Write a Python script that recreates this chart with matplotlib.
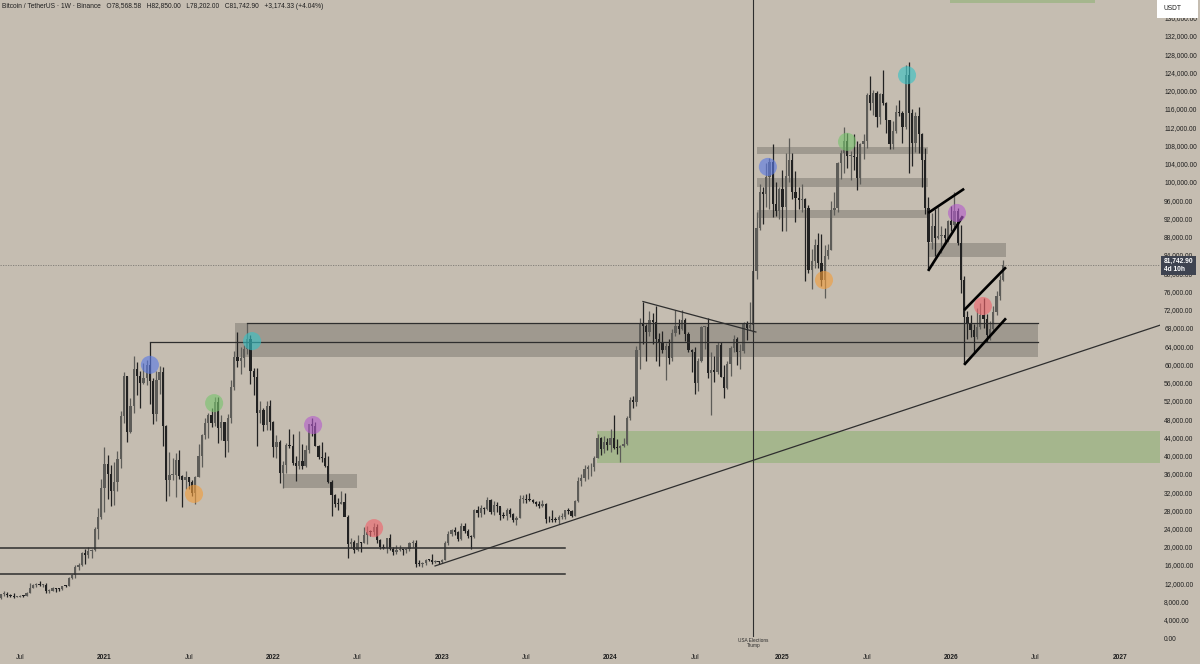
import matplotlib
matplotlib.use("Agg")
import matplotlib.pyplot as plt
from matplotlib.patches import Rectangle
import numpy as np
import pandas as pd

BG = "#c5bdb1"
UP = "#5d5c58"
DOWN = "#222222"
LINE = "#2e2e2e"

# weekly BTCUSDT candles, thousands of USDT, first bar = week of 2020-05-25
first_open = 8.72

close_2020 = [9.70, 9.75, 9.39, 9.29, 9.01, 9.07, 9.24, 9.16, 9.93, 11.05, 11.68, 11.85, 11.65, 11.68, 10.25, 10.33,
              10.93, 10.78, 10.67, 11.38, 11.36, 13.10, 13.79, 15.48, 15.96, 18.68, 18.18, 19.16, 19.25, 23.87, 26.47, 33.00]
high_2020 = [9.74, 10.38, 9.99, 9.59, 9.80, 9.32, 9.48, 9.34, 10.03, 12.12, 11.90, 12.09, 12.48, 11.80, 12.09, 10.66,
             11.18, 10.98, 10.95, 11.49, 11.72, 13.35, 14.09, 15.97, 16.48, 18.82, 19.48, 19.92, 19.42, 24.30, 28.42, 34.80]
low_2020 = [8.63, 9.25, 9.10, 8.90, 8.83, 8.94, 9.06, 9.00, 9.12, 9.92, 10.95, 11.13, 11.37, 11.12, 9.88, 9.87,
            10.20, 10.14, 10.37, 10.53, 11.24, 11.35, 12.90, 13.21, 14.84, 15.79, 16.20, 17.65, 17.56, 19.00, 21.81, 26.20]

close_2021 = [38.15, 36.00, 32.26, 34.26, 39.26, 48.58, 57.49, 45.14, 50.97, 59.02, 57.35, 55.82, 57.06, 59.77, 56.25,
              49.07, 56.60, 58.24, 46.43, 34.70, 35.66, 35.79, 39.10, 35.51, 34.70, 35.29, 34.24, 31.78, 35.40, 39.85,
              44.61, 47.08, 48.95, 47.10, 51.78, 46.00, 47.29, 43.17, 48.20, 54.96, 61.53, 60.85, 61.30, 63.27, 65.47,
              58.60, 57.27, 49.40, 50.10, 46.68, 50.78, 47.29]
high_2021 = [41.95, 40.10, 37.85, 38.53, 40.96, 49.71, 58.35, 57.53, 52.64, 61.84, 60.63, 58.60, 60.20, 61.00, 64.85,
             57.00, 58.45, 59.59, 59.50, 46.66, 40.80, 39.48, 40.48, 41.33, 35.75, 36.67, 35.30, 34.68, 35.50, 42.65,
             44.70, 48.14, 49.40, 50.50, 52.92, 52.92, 48.84, 47.35, 49.20, 56.56, 62.93, 67.00, 63.71, 64.27, 69.00,
             66.34, 59.27, 59.18, 51.94, 50.50, 51.87, 52.09]
low_2021 = [27.73, 30.42, 28.85, 29.24, 32.30, 37.35, 47.05, 43.00, 45.00, 49.27, 53.27, 50.43, 55.72, 55.47, 51.30,
            47.00, 47.50, 53.40, 42.00, 30.00, 31.11, 34.75, 31.00, 34.81, 28.81, 32.70, 32.70, 31.12, 29.28, 35.21,
            37.45, 43.66, 43.93, 46.37, 46.55, 42.80, 43.37, 39.60, 40.75, 47.10, 54.42, 59.50, 57.80, 59.40, 62.28,
            55.60, 53.25, 42.00, 47.10, 45.50, 45.56, 45.68]

close_2022 = [41.86, 43.08, 36.28, 37.92, 42.41, 42.20, 38.35, 37.70, 38.81, 37.78, 41.26, 46.82, 46.41, 42.16, 39.71,
              39.45, 37.63, 34.30, 31.33, 29.45, 29.43, 29.92, 26.57, 20.57, 21.03, 19.32, 20.83, 20.80, 22.58, 23.30,
              23.17, 24.31, 21.52, 20.04, 19.79, 21.83, 19.42, 18.80, 19.31, 19.42, 19.20, 19.57, 20.81, 20.90, 16.33,
              16.28, 16.46, 17.11, 17.10, 16.75, 16.84, 16.62]
high_2022 = [47.57, 44.50, 43.50, 38.92, 42.66, 45.85, 44.80, 39.84, 45.40, 42.59, 42.33, 47.00, 48.19, 47.44, 42.41,
             42.97, 40.80, 40.02, 34.72, 31.50, 30.64, 32.23, 31.77, 26.90, 21.87, 21.55, 22.53, 21.00, 24.28, 24.67,
             23.65, 25.21, 25.00, 21.82, 20.58, 21.86, 22.80, 19.95, 20.39, 20.48, 19.52, 19.70, 21.09, 21.48, 21.47,
             17.19, 16.77, 17.42, 17.42, 18.39, 17.06, 16.97]
low_2022 = [39.65, 39.43, 34.01, 32.92, 36.25, 41.65, 38.00, 34.32, 37.15, 37.16, 37.55, 40.47, 44.20, 42.00, 39.20,
            38.54, 37.58, 34.06, 26.70, 28.65, 28.02, 29.30, 28.20, 17.62, 19.64, 18.63, 19.00, 18.90, 20.76, 20.71,
            22.40, 22.67, 20.76, 19.54, 19.54, 18.54, 19.33, 18.12, 18.47, 19.09, 18.19, 18.65, 19.15, 20.05, 15.59,
            15.82, 15.48, 16.00, 16.88, 16.27, 16.40, 16.33]

close_2023 = [17.13, 20.87, 22.71, 23.74, 23.32, 21.78, 24.63, 23.49, 22.43, 22.13, 27.97, 27.47, 28.45, 28.32, 30.30,
              27.59, 29.23, 28.85, 26.91, 26.85, 28.07, 27.10, 25.88, 26.34, 30.53, 30.59, 30.29, 30.23, 29.90, 29.28,
              29.05, 29.41, 26.10, 26.00, 25.87, 25.84, 26.53, 26.53, 27.97, 27.91, 26.85, 29.99, 34.53, 35.01, 37.06,
              37.39, 37.45, 39.46, 43.80, 41.37, 42.99, 42.28]
high_2023 = [17.25, 21.26, 23.37, 23.82, 24.26, 23.36, 25.25, 25.12, 23.88, 22.60, 28.39, 28.87, 29.19, 28.77, 31.00,
             30.49, 30.04, 29.82, 28.83, 27.67, 28.45, 28.45, 27.45, 26.79, 31.43, 31.28, 31.50, 31.80, 30.45, 29.99,
             30.00, 30.24, 29.68, 26.80, 28.14, 26.43, 27.00, 27.48, 28.06, 28.58, 28.00, 30.35, 35.20, 35.98, 38.00,
             37.98, 38.42, 40.00, 44.70, 44.05, 44.38, 43.80]
low_2023 = [16.52, 17.10, 20.40, 22.29, 22.51, 21.35, 21.40, 23.10, 21.97, 19.55, 21.90, 26.60, 26.51, 27.20, 28.17,
            27.12, 26.94, 27.68, 25.81, 26.27, 25.87, 26.50, 25.35, 24.80, 26.27, 29.53, 29.69, 29.95, 29.51, 28.86,
            28.59, 28.70, 25.17, 25.35, 25.33, 25.33, 24.90, 26.14, 26.00, 27.22, 26.54, 26.80, 29.86, 33.39, 34.53,
            34.80, 35.63, 36.70, 39.40, 40.22, 40.55, 41.30]

close_2024 = [43.94, 41.73, 41.58, 42.03, 42.58, 48.30, 52.14, 51.73, 63.11, 68.96, 68.39, 67.21, 69.65, 69.36, 65.66,
              64.94, 63.12, 63.99, 61.48, 66.94, 68.50, 67.77, 69.65, 66.64, 63.21, 62.68, 55.86, 60.80, 68.16, 68.25,
              58.11, 58.71, 58.43, 64.22, 57.30, 54.84, 59.98, 63.58, 65.60, 62.82, 62.85, 69.00, 67.93, 68.72, 80.40,
              89.90, 97.90, 97.28, 101.11, 104.46, 95.19, 93.72, 98.36]
high_2024 = [45.88, 48.97, 43.58, 42.25, 43.88, 48.59, 52.82, 52.99, 64.00, 70.14, 73.78, 68.90, 71.77, 71.34, 72.80,
             66.87, 67.23, 64.73, 65.50, 67.70, 71.98, 70.00, 71.99, 70.20, 67.18, 63.37, 63.86, 61.42, 68.45, 68.47,
             70.08, 62.75, 61.80, 65.00, 64.96, 59.81, 60.65, 64.13, 66.50, 66.08, 64.48, 69.40, 69.52, 73.62, 80.50,
             93.48, 99.59, 98.87, 104.09, 105.25, 108.35, 99.96, 98.98]
low_2024 = [40.75, 41.50, 40.28, 38.55, 41.88, 42.27, 47.71, 50.52, 50.90, 59.00, 64.55, 60.78, 66.25, 64.49, 60.66,
            59.60, 62.40, 56.55, 60.19, 60.75, 66.31, 66.60, 67.59, 65.06, 62.80, 58.40, 53.49, 54.26, 60.63, 63.46,
            57.12, 49.00, 56.08, 57.80, 57.20, 52.55, 54.56, 57.49, 62.70, 59.83, 58.89, 62.40, 65.26, 67.45, 66.83,
            78.70, 89.38, 90.77, 94.50, 94.15, 92.23, 92.52, 91.77]

close_2025 = [94.50, 101.33, 104.71, 97.69, 96.46, 96.14, 96.26, 94.27, 80.73, 82.58, 86.08, 82.34, 78.43, 83.76, 85.17,
              93.75, 94.28, 104.12, 106.45, 109.00, 105.70, 105.73, 105.55, 100.96, 108.37, 108.95, 119.09, 117.26,
              119.45, 114.22, 119.29, 117.40, 113.49, 108.25, 111.14, 115.27, 115.23, 112.16, 123.50, 115.07, 108.64,
              114.50, 110.54, 104.72, 94.26, 86.83, 90.39, 87.80, 88.20, 88.45, 87.80, 91.50]
high_2025 = [102.72, 106.42, 109.59, 106.46, 102.50, 98.83, 99.50, 96.50, 95.00, 85.31, 87.45, 88.77, 88.50, 86.10,
             86.50, 95.76, 97.90, 104.36, 107.10, 111.98, 110.72, 106.80, 110.53, 108.95, 108.53, 110.53, 119.49,
             123.22, 120.25, 120.00, 119.60, 124.47, 117.63, 113.66, 113.38, 116.78, 117.90, 115.50, 125.71, 126.20,
             115.97, 115.30, 116.40, 110.78, 107.50, 96.64, 93.09, 94.15, 94.59, 90.35, 89.90, 91.70]
low_2025 = [89.25, 89.26, 100.10, 96.20, 91.23, 94.09, 93.39, 78.26, 80.00, 76.61, 81.14, 81.20, 77.15, 74.51, 83.00,
            85.14, 92.80, 93.38, 100.70, 102.00, 103.11, 100.37, 102.66, 98.20, 99.60, 105.12, 107.46, 115.74, 114.72,
            112.00, 112.63, 116.80, 110.68, 107.26, 107.27, 110.64, 114.38, 108.62, 111.58, 102.00, 103.53, 106.60,
            106.30, 98.94, 93.00, 80.60, 85.28, 83.82, 87.60, 84.44, 86.40, 86.80]

close_2026 = [90.50, 93.60, 86.60, 78.60, 70.30, 68.80, 67.50, 65.90, 68.20, 70.80, 69.90, 66.50, 67.80, 71.50, 75.00,
              78.568, 81.743]
high_2026 = [94.80, 97.90, 94.20, 90.60, 79.30, 71.80, 70.90, 68.90, 72.30, 73.50, 74.50, 71.00, 69.50, 72.80, 76.20,
             79.50, 82.85]
low_2026 = [89.30, 90.10, 86.20, 75.70, 60.00, 65.60, 65.90, 62.50, 65.50, 67.70, 68.00, 64.90, 65.30, 66.80, 70.80,
            74.20, 78.20]

closes = np.array(close_2020 + close_2021 + close_2022 + close_2023 + close_2024 + close_2025 + close_2026) * 1000
highs = np.array(high_2020 + high_2021 + high_2022 + high_2023 + high_2024 + high_2025 + high_2026) * 1000
lows = np.array(low_2020 + low_2021 + low_2022 + low_2023 + low_2024 + low_2025 + low_2026) * 1000
opens = np.concatenate([[first_open * 1000], closes[:-1]])

BASE = pd.Timestamp("2021-01-04")
dates = pd.date_range("2020-05-25", periods=len(closes), freq="7D")
weeks = np.array((dates - BASE).days / 7.0)

# x axis ticks
tick_dates = ["2020-07-06", "2021-01-04", "2021-07-05", "2022-01-03", "2022-07-04", "2023-01-02", "2023-07-03",
              "2024-01-01", "2024-07-01", "2025-01-06", "2025-07-07", "2026-01-05", "2026-07-06", "2027-01-04"]
tick_labels = ["Jul", "2021", "Jul", "2022", "Jul", "2023", "Jul", "2024", "Jul", "2025", "Jul", "2026", "Jul", "2027"]

# drawings (x in weeks since 2021-01-04, prices in USDT)
hlines_low = [19750, 14000]              # from left edge to late Sep 2023
hline_low_end = 142.0
hlines_mid = [(14.0, 64850), (44.0, 69000)]   # start week, price; run to hline_mid_end
hline_mid_end = 287.8
gray_boxes = [  # x0, x1, y0, y1
    (40.2, 287.8, 61600, 69000),
    (55.0, 77.8, 32900, 36000),
    (201.1, 253.9, 106100, 107600),
    (201.1, 253.9, 98800, 100800),
    (201.1, 253.9, 92000, 93900),
    (253.9, 277.9, 83500, 86600),
]
green_boxes = [(151.8, 330.0, 38400, 45400), (260.6, 305.3, 139300, 150000)]
thin_lines = [((166.0, 73780), (200.8, 67100)), ((101.9, 15800), (325.4, 68600))]
wedge_lines = [((253.9, 93200), (265.0, 98500)), ((253.9, 80500), (264.6, 92500)),
               ((265.0, 71900), (277.9, 81300)), ((265.0, 59900), (277.9, 70100))]
pivot_x = [14.0, 27.6, 33.8, 45.5, 64.3, 83.1, 204.5, 221.8, 228.9, 247.4, 262.8, 270.8]
pivot_y = [59900, 31600, 51500, 65100, 46700, 24100, 103300, 78500, 108800, 123400, 93200, 72800]
pivot_c = ["#5a7ae6", "#f29d3c", "#78c46e", "#36c2c6", "#b45ccc", "#f0646c"] * 2
election_week = 200.0
last_price = 81742.90

fig = plt.figure(figsize=(12, 6.64), dpi=100)
fig.patch.set_facecolor(BG)
ax = fig.add_axes([0, 16 / 664, 1160 / 1200, 648 / 664])
ax.set_facecolor(BG)
for s in ax.spines.values():
    s.set_visible(False)

# zones
for x0, x1, y0, y1 in gray_boxes:
    ax.add_patch(Rectangle((x0, y0), x1 - x0, y1 - y0, fc="black", alpha=0.19, ec="none", zorder=1))
for x0, x1, y0, y1 in green_boxes:
    ax.add_patch(Rectangle((x0, y0), x1 - x0, y1 - y0, fc="#7fae62", alpha=0.45, ec="none", zorder=1))

# candles
up = closes >= opens
for mask, col in ((up, UP), (~up, DOWN)):
    ax.vlines(weeks[mask], lows[mask], highs[mask], color=col, lw=0.9, zorder=3)
    bottom = np.minimum(opens, closes)[mask]
    height = np.maximum(np.abs(closes - opens)[mask], 200)
    ax.bar(weeks[mask], height, bottom=bottom, width=0.7, color=col, ec="none", zorder=3)

# horizontal levels
xl = (-32.21, 325.38)
for p in hlines_low:
    ax.plot([xl[0], hline_low_end], [p, p], color=LINE, lw=1.1, zorder=4)
for x0, p in hlines_mid:
    ax.plot([x0, hline_mid_end], [p, p], color=LINE, lw=0.9, zorder=4)

for (x0, y0), (x1, y1) in thin_lines:
    ax.plot([x0, x1], [y0, y1], color=LINE, lw=0.9, zorder=4)
for (x0, y0), (x1, y1) in wedge_lines:
    ax.plot([x0, x1], [y0, y1], color="black", lw=1.9, zorder=4, solid_capstyle="butt")

# pivot circles
ax.scatter(pivot_x, pivot_y, s=170, c=pivot_c, alpha=0.62, linewidths=0, zorder=5)

# election marker
ax.plot([election_week, election_week], [450, 150000], color=LINE, lw=0.8, zorder=4)
ax.text(election_week, -1100, "USA Elections\nTrump", ha="center", va="center", fontsize=3.4,
        family="Liberation Sans", color="#2a2a2a", linespacing=1.0, zorder=6)

# last price line + label
ax.axhline(last_price, color="#7d7a74", lw=0.6, ls=(0, (1.5, 1.5)), zorder=2)
ax.annotate("81,742.90\n4d 10h", xy=(1.0, last_price), xycoords=("axes fraction", "data"),
            xytext=(2.6, 0), textcoords="offset points", ha="left", va="center", fontsize=4.8,
            family="Liberation Sans", color="white", fontweight="bold", linespacing=1.15,
            bbox=dict(boxstyle="square,pad=0.35", fc="#3e4350", ec="none"), annotation_clip=False, zorder=10)

ax.set_xlim(*xl)
ax.set_ylim(-2190, 139900)

ax.yaxis.tick_right()
yt = np.arange(0, 136001, 4000)
ax.set_yticks(yt)
ax.set_yticklabels([f"{v:,.2f}" for v in yt], fontsize=4.8, family="Liberation Sans", color="#1e1e1e")
ax.tick_params(axis="y", length=0, pad=3)

tw = [(pd.Timestamp(d) - BASE).days / 7.0 for d in tick_dates]
ax.set_xticks(tw)
ax.set_xticklabels(tick_labels, fontsize=4.8, family="Liberation Sans", color="#1e1e1e")
for t, lab in zip(ax.get_xticklabels(), tick_labels):
    if lab != "Jul":
        t.set_fontweight("bold")
ax.tick_params(axis="x", length=0, pad=4.5)

fig.text(2 / 1200, 1 - 7 / 664,
         "Bitcoin / TetherUS · 1W · Binance   O78,568.58   H82,850.00   L78,202.00   C81,742.90   +3,174.33 (+4.04%)",
         fontsize=4.8, family="Liberation Sans", color="#1e1e1e", va="center", ha="left")

# currency badge
fig.patches.append(Rectangle((1157 / 1200, 1 - 18 / 664), 41 / 1200, 18 / 664, transform=fig.transFigure,
                             fc="white", ec="none", zorder=5))
fig.text(1163 / 1200, 1 - 9 / 664, "USDT", fontsize=4.8, family="Liberation Sans", color="#1e1e1e",
         va="center", ha="left", zorder=6)

fig.savefig("out.png", dpi=100, facecolor=BG)
